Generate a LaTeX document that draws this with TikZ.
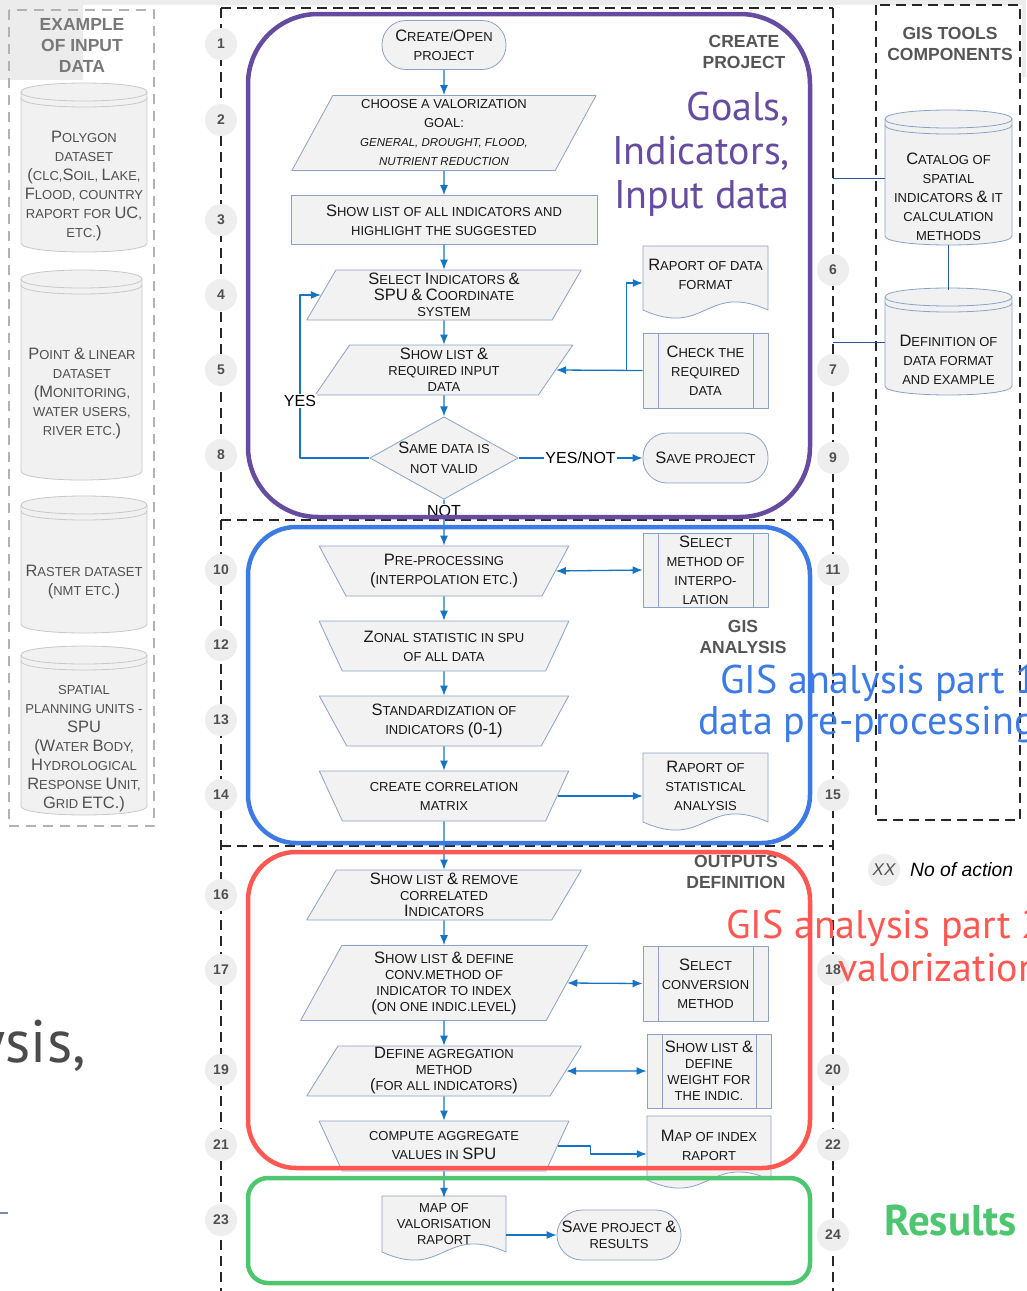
\documentclass[tikz,border=0pt]{standalone}
\usepackage{fontspec}
\setmainfont{Liberation Sans}
\newfontfamily\slidefont{PT Sans}
\usetikzlibrary{shapes.geometric,arrows.meta,calc}

\definecolor{ink}{RGB}{25,25,25}
\definecolor{boxfill}{RGB}{242,242,242}
\definecolor{boxline}{RGB}{138,162,198}
\definecolor{drumfill}{RGB}{241,241,241}
\definecolor{drumline}{RGB}{200,200,200}
\definecolor{drumink}{RGB}{80,80,80}
\definecolor{flowblue}{RGB}{22,116,196}
\definecolor{linkblue}{RGB}{47,85,151}
\definecolor{numfill}{RGB}{238,238,238}
\definecolor{numtext}{RGB}{80,80,80}
\definecolor{headdark}{RGB}{85,85,85}
\definecolor{headlight}{RGB}{120,120,120}
\definecolor{purpleframe}{RGB}{102,76,160}
\definecolor{gisblue}{RGB}{62,122,228}
\definecolor{gisred}{RGB}{255,88,82}
\definecolor{gisgreen}{RGB}{78,198,112}
\definecolor{slidegray}{RGB}{236,236,236}
\definecolor{fraggray}{RGB}{75,75,75}
\definecolor{stubline}{RGB}{120,140,170}

% bigger first letters (small caps look)
\newcommand{\bc}[1]{{\fontsize{16.5}{19}\selectfont #1}}

% database drum: x1 y1 x2 y2 border
\newcommand{\drum}[5]{%
  \filldraw[fill=drumfill, draw=#5, line width=0.8pt]
    (#1,#2+9) -- (#1,#4-9) .. controls (#1,#4+3) and (#3,#4+3) .. (#3,#4-9)
    -- (#3,#2+9) .. controls (#3,#2-3) and (#1,#2-3) .. cycle;
  \draw[draw=#5, line width=0.8pt] (#1,#2+9) .. controls (#1,#2+21) and (#3,#2+21) .. (#3,#2+9);
  \draw[draw=#5, line width=0.8pt] (#1,#2+15) .. controls (#1,#2+27) and (#3,#2+27) .. (#3,#2+15);
}

% document with wavy bottom: x1 y1 x2 ywave
\newcommand{\paper}[4]{%
  \filldraw[fill=boxfill, draw=boxline, line width=0.8pt]
    (#1,#2) -- (#3,#2) -- (#3,#4) .. controls ({(#1+#3)/2},#4-28) and ({(#1+#3)/2},#4+28) .. (#1,#4) -- cycle;
}

\begin{document}
\begin{tikzpicture}[
  x=1pt,
  y=-1pt,
  line join=round,
  >={Latex[length=10pt,width=8pt]},
  proc/.style={draw=boxline, fill=boxfill, line width=0.8pt, align=center,
    inner sep=0pt, text=ink, font=\fontsize{13}{19}\selectfont},
  tight/.style={font=\fontsize{13}{16}\selectfont},
  slant/.style={proc, trapezium, trapezium left angle=65,
    trapezium right angle=115, trapezium stretches=true},
  manual/.style={proc, trapezium, trapezium left angle=121,
    trapezium right angle=121, trapezium stretches=true,
    minimum width=250pt, minimum height=50pt},
  term/.style={proc, rounded corners=24pt, minimum height=49pt},
  predef/.style={proc, path picture={
      \draw[boxline, line width=0.8pt]
        ([xshift=15pt]path picture bounding box.north west) -- ([xshift=15pt]path picture bounding box.south west)
        ([xshift=-15pt]path picture bounding box.north east) -- ([xshift=-15pt]path picture bounding box.south east);}},
  paptext/.style={align=center, inner sep=0pt, text=ink, font=\fontsize{13}{19}\selectfont},
  drumtext/.style={align=center, inner sep=0pt, font=\fontsize{13}{19}\selectfont},
  numdot/.style={circle, fill=numfill, minimum size=32pt, inner sep=0pt,
    text=numtext, font=\bfseries\fontsize{14}{14}\selectfont},
  lane/.style={draw=black!85, line width=1.1pt, dash pattern=on 10pt off 6pt},
  inbox/.style={draw=black!30, line width=1.5pt, dash pattern=on 10pt off 7pt},
  flow/.style={draw=flowblue, line width=1.3pt},
  tool/.style={draw=linkblue, line width=1pt},
  lbl/.style={fill=white, inner sep=1pt, text=black, font=\fontsize{16}{16}\selectfont},
  head/.style={align=center, font=\bfseries\fontsize{17.5}{21}\selectfont},
  frame/.style={line width=4.5pt},
  slide/.style={inner sep=0pt, anchor=base west, font=\slidefont\fontsize{40}{40}\selectfont},
]

  \useasboundingbox (0,0) rectangle (1026,1291);
  \fill[white] (0,0) rectangle (1026,1291);
  \fill[slidegray] (0,0) rectangle (1026,5);
  \fill[slidegray] (0,0) rectangle (83,80);
  \fill[slidegray] (1022,0) rectangle (1026,77);
  \node[anchor=base east, inner sep=0pt, text=fraggray, font=\slidefont\fontsize{60}{60}\selectfont] (frag) at (86,1062) {ysis,};
  \draw[stubline, line width=1.2pt] (0,1213) -- (8,1213);

  % lanes
  \draw[inbox] (9,10) rectangle (154,826);
  \draw[lane] (221,8) -- (833,8);
  \draw[lane] (221,8) -- (221,1291);
  \draw[lane] (833,8) -- (833,1291);
  \draw[lane] (221,520) -- (833,520);
  \draw[lane] (221,846) -- (833,846);
  \draw[lane] (876,5) rectangle (1020,820);

  % numbers of actions
  \foreach \k/\y in {1/44,2/120,3/220,4/295,5/370,8/455,10/570,12/645,13/720,14/795,16/895,17/970,19/1070,21/1145,23/1220}
    \node[numdot] (act\k) at (221,\y) {\k};
  \foreach \k/\y in {6/270,7/370,9/458,11/570,15/795,18/970,20/1070,22/1145,24/1235}
    \node[numdot] (act\k) at (833,\y) {\k};
  \node[numdot, font=\itshape\fontsize{17}{17}\selectfont] (xx) at (884,870) {XX};
  \node[anchor=west, inner sep=0pt, font=\itshape\fontsize{19.3}{19}\selectfont] (xxlbl) at (910,870) {No of action};

  % slide titles
  \node[slide, anchor=base east, text=purpleframe] (goals) at (790,120) {Goals,};
  \node[slide, anchor=base east, text=purpleframe] (indic) at (790,164) {Indicators,};
  \node[slide, anchor=base east, text=purpleframe] (input) at (790,208) {Input data};
  \node[slide, text=gisblue] (part1) at (720,693) {GIS analysis part 1};
  \node[slide, text=gisblue] (prep) at (698,734) {data pre-processing};
  \node[slide, text=gisred] (part2) at (726,938) {GIS analysis part 2};
  \node[slide, text=gisred] (valor) at (838,981) {valorization};
  \node[slide, text=gisgreen, font=\slidefont\bfseries\fontsize{43}{43}\selectfont] (results) at (884,1235) {Results};

  % headers
  \node[head, text=headlight] (inhead) at (82,45) {EXAMPLE\\OF INPUT\\DATA};
  \node[head, text=headdark] (cphead) at (744,52) {CREATE\\PROJECT};
  \node[head, text=headdark] (gishead) at (743,637) {GIS\\ANALYSIS};
  \node[head, text=headdark] (outhead) at (736,872) {OUTPUTS\\DEFINITION};
  \node[head, text=headdark] (toolhead) at (950,44) {GIS TOOLS\\COMPONENTS};

  % input data
  \drum{21}{83}{147}{252}{drumline}
  \node[drumtext, text=drumink] (poly) at (84,186) {\bc{P}OLYGON\\DATASET\\\bc{(}CLC,\bc{S}OIL, \bc{L}AKE,\\\bc{F}LOOD, COUNTRY\\RAPORT FOR \bc{UC},\\ETC.\bc{)}};
  \drum{21}{270}{142}{480}{drumline}
  \node[drumtext, text=drumink] (point) at (82,393) {\bc{P}OINT \bc{\&} LINEAR\\DATASET\\\bc{(M}ONITORING,\\WATER USERS,\\RIVER ETC.\bc{)}};
  \drum{21}{496}{147}{633}{drumline}
  \node[drumtext, text=drumink] (raster) at (84,582) {\bc{R}ASTER DATASET\\\bc{(}NMT ETC.\bc{)}};
  \drum{21}{646}{147}{815}{drumline}
  \node[drumtext, text=drumink] (spu) at (84,749) {SPATIAL\\PLANNING UNITS -\\\bc{SPU}\\\bc{(W}ATER \bc{B}ODY,\\\bc{H}YDROLOGICAL\\\bc{R}ESPONSE \bc{U}NIT,\\\bc{G}RID \bc{ETC.)}};

  % gis tools
  \drum{885}{110}{1012}{245}{boxline}
  \node[drumtext, text=ink, minimum width=127pt, minimum height=96pt] (cat) at (948.5,197) {\bc{C}ATALOG OF\\SPATIAL\\INDICATORS \bc{\&} IT\\CALCULATION\\METHODS};
  \drum{885}{288}{1012}{395}{boxline}
  \node[drumtext, text=ink, minimum width=127pt, minimum height=140pt] (def) at (948.5,360) {\bc{D}EFINITION OF\\DATA FORMAT\\AND EXAMPLE};
  \coordinate (catlink) at (833,178);
  \coordinate (deflink) at (833,342);
  \draw[tool] (catlink) -- (catlink -| cat.west);
  \draw[tool] (deflink) -- (deflink -| def.west);
  \draw[tool] (cat.south) -- (def.north);

  % create project
  \node[term, minimum width=124pt] (open) at (444,45) {\bc{C}REATE/\bc{O}PEN\\PROJECT};
  \node[slant, minimum width=305pt, minimum height=75pt] (goal) at (444,133) {CHOOSE A VALORIZATION\\GOAL:\\{\itshape\fontsize{11.5}{19}\selectfont GENERAL, DROUGHT, FLOOD,}\\{\itshape\fontsize{11.5}{19}\selectfont NUTRIENT REDUCTION}};
  \node[proc, minimum width=306pt, minimum height=49pt] (list) at (444,220) {\bc{S}HOW LIST OF ALL INDICATORS AND\\HIGHLIGHT THE SUGGESTED};
  \node[slant, tight, minimum width=275pt, minimum height=50pt] (sel) at (444,295) {\bc{S}ELECT \bc{I}NDICATORS \bc{\&}\\\bc{SPU} \bc{\&} \bc{C}OORDINATE\\SYSTEM};
  \node[slant, tight, minimum width=258pt, minimum height=50pt] (req) at (444,370) {\bc{S}HOW LIST \bc{\&}\\REQUIRED INPUT\\DATA};
  \node[proc, diamond, aspect=1.8, minimum width=148pt, minimum height=82pt, font=\fontsize{13}{20}\selectfont] (valid) at (444,458) {\bc{S}AME DATA IS\\NOT VALID};
  \paper{643}{246}{768}{310}
  \node[paptext, minimum width=125pt, minimum height=56pt] (fmt) at (705.5,274) {\bc{R}APORT OF DATA\\FORMAT};
  \node[predef, minimum width=125pt, minimum height=75pt] (chk) at (705.5,370.5) {\bc{C}HECK THE\\REQUIRED\\DATA};
  \node[term, minimum width=125pt, minimum height=50pt] (save) at (705.5,458) {\bc{S}AVE PROJECT};

  % gis analysis
  \node[manual] (pre) at (444,571) {\bc{P}RE-PROCESSING\\\bc{(}INTERPOLATION ETC.\bc{)}};
  \node[predef, minimum width=125pt, minimum height=74pt] (interp) at (705.5,570) {\bc{S}ELECT\\METHOD OF\\INTERPO-\\LATION};
  \node[manual] (zonal) at (444,646) {\bc{Z}ONAL STATISTIC IN SPU\\OF ALL DATA};
  \node[manual] (std) at (444,721) {\bc{S}TANDARDIZATION OF\\INDICATORS \bc{(0-1)}};
  \node[manual] (corr) at (444,796) {CREATE CORRELATION\\MATRIX};
  \paper{643}{753}{768}{822}
  \node[paptext, minimum width=125pt, minimum height=60pt] (stat) at (705.5,786) {\bc{R}APORT OF\\STATISTICAL\\ANALYSIS};

  % outputs definition
  \node[slant, tight, minimum width=275pt, minimum height=50pt] (rem) at (444,895) {\bc{S}HOW LIST \bc{\&} REMOVE\\CORRELATED\\\bc{I}NDICATORS};
  \node[slant, tight, minimum width=287pt, minimum height=75pt] (conv) at (444,983) {\bc{S}HOW LIST \bc{\&} DEFINE\\CONV.METHOD OF\\INDICATOR TO INDEX\\\bc{(}ON ONE INDIC.LEVEL\bc{)}};
  \node[predef, minimum width=125pt, minimum height=75pt] (cmeth) at (705.5,983.5) {\bc{S}ELECT\\CONVERSION\\METHOD};
  \node[slant, tight, minimum width=275pt, minimum height=50pt] (agg) at (444,1071) {\bc{D}EFINE AGREGATION\\METHOD\\\bc{(}FOR ALL INDICATORS\bc{)}};
  \node[predef, tight, minimum width=124pt, minimum height=74pt] (wgt) at (709,1071) {\bc{S}HOW LIST \bc{\&}\\DEFINE\\WEIGHT FOR\\THE INDIC.};
  \node[manual] (comp) at (444,1146) {COMPUTE AGGREGATE\\VALUES IN \bc{SPU}};
  \paper{647}{1116}{771}{1180}
  \node[paptext, minimum width=124pt, minimum height=58pt] (idx) at (709,1145) {\bc{M}AP OF INDEX\\RAPORT};

  % results
  \paper{382}{1196}{506}{1252}
  \node[paptext, tight, minimum width=124pt, minimum height=52pt] (valo) at (444,1224) {MAP OF\\VALORISATION\\RAPORT};
  \node[term, tight, rounded corners=25pt, minimum width=124pt, minimum height=50pt] (saveall) at (619,1235) {\bc{S}AVE PROJECT \bc{\&}\\RESULTS};

  % connectors
  \draw[flow,->] (open.south) -- (goal.north);
  \draw[flow,->] (goal.south) -- (list.north);
  \draw[flow,->] (list.south) -- (sel.north);
  \draw[flow,->] (sel.south) -- (req.north);
  \draw[flow,->] (req.south) -- (valid.north);
  \draw[flow,->] (chk.west) -- (req.east);
  \coordinate (split) at ($(chk.west)+(-16,0)$);
  \draw[flow,->] (split) |- ([yshift=-9pt]fmt.west);
  \coordinate (yes) at (300,401);
  \draw[flow,->] (valid.west) -| (yes) |- (sel.west);
  \node[lbl] (yeslbl) at (yes) {YES};
  \draw[flow,->] (valid.east) -- node[lbl] (ynlbl) {YES/NOT} (save.west);
  \draw[flow,->] (valid.south) -- node[lbl, pos=0.24] (notlbl) {NOT} (pre.north);

  \draw[flow,<->] (pre.east) -- (interp.west);
  \draw[flow,->] (pre.south) -- (zonal.north);
  \draw[flow,->] (zonal.south) -- (std.north);
  \draw[flow,->] (std.south) -- (corr.north);
  \draw[flow,->] (corr.east) -- (corr.east -| stat.west);
  \draw[flow,->] (corr.south) -- (rem.north);

  \draw[flow,->] (rem.south) -- (conv.north);
  \draw[flow,<->] (conv.east) -- (cmeth.west);
  \draw[flow,->] (conv.south) -- (agg.north);
  \draw[flow,<->] (agg.east) -- (wgt.west);
  \draw[flow,->] (agg.south) -- (comp.north);
  \draw[flow,->] (comp.east) -- ++(33,0) |- ([yshift=-9pt]idx.west);
  \draw[flow,->] (comp.south) -- (valo.north);
  \draw[flow,->] (valo.east |- saveall.west) -- (saveall.west);

  % frames
  \draw[frame, draw=purpleframe, rounded corners=70pt] (248,14) rectangle (810,517);
  \draw[frame, draw=gisblue, rounded corners=48pt] (248,527) rectangle (810,843);
  \draw[frame, draw=gisred, rounded corners=48pt] (248,852) rectangle (810,1168);
  \draw[frame, draw=gisgreen, rounded corners=20pt] (248,1178) rectangle (810,1283);

\end{tikzpicture}
\end{document}
